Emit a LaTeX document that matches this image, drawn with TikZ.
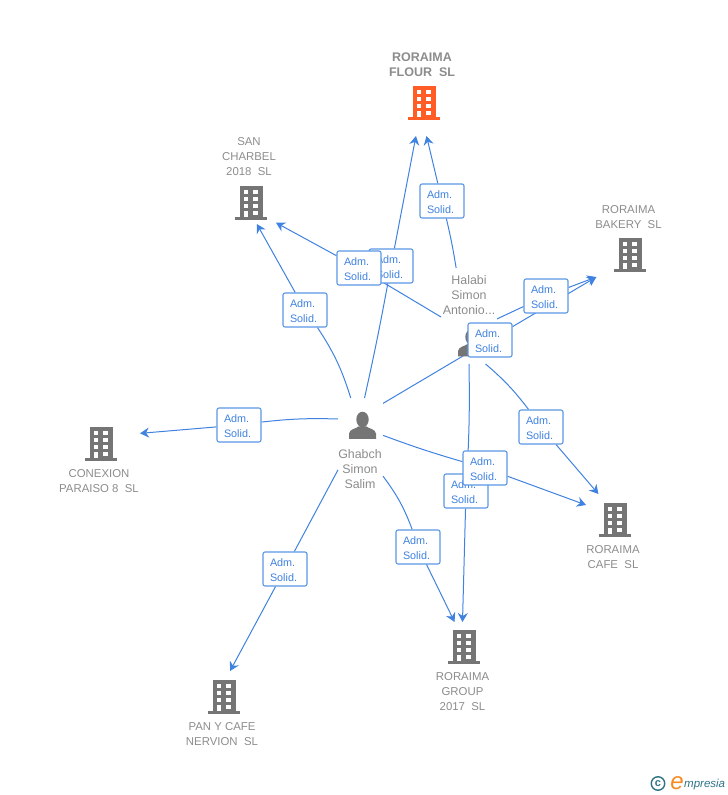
\documentclass[tikz,border=0pt]{standalone}
\usepackage{fontspec}
\setmainfont{Liberation Sans}
\usetikzlibrary{arrows.meta,backgrounds}

\definecolor{linkblue}{HTML}{3F82E0}
\definecolor{boxblue}{HTML}{5B97E6}
\definecolor{labelgrey}{HTML}{8C8C8C}
\definecolor{icongrey}{HTML}{757575}
\definecolor{flourorange}{HTML}{FF5C26}
\definecolor{logoteal}{HTML}{2F7386}
\definecolor{logoorange}{HTML}{F58A1F}

\tikzset{
  slot/.style={rectangle,inner sep=0pt,outer sep=0pt},
  firmname/.style={inner sep=0pt,align=center,text=labelgrey,font=\fontsize{11.4}{15}\selectfont},
  flourname/.style={firmname,font=\fontsize{12.5}{15}\selectfont\bfseries},
  personname/.style={inner sep=0pt,align=center,text=labelgrey,font=\fontsize{12.4}{15}\selectfont},
  admbox/.style={draw=boxblue,fill=white,line width=1.1pt,rounded corners=2pt,
    minimum width=44pt,minimum height=34pt,inner xsep=7pt,inner ysep=0pt,text width=30pt,
    text height=10pt,align=left,text=linkblue,font=\fontsize{10.8}{15}\selectfont},
  link/.style={draw=linkblue,line width=1pt},
  pointer/.style={link,-{Stealth[length=9pt,width=10pt,inset=3pt]}},
  pics/building/.style={code={
    \fill[#1] (-11.5,17) rectangle (11.5,-14);
    \fill[#1] (-16,-14) rectangle (16,-17);
    \foreach \yy in {13.2,6.2,-0.8,-7.8} {
      \fill[white] (-7.5,\yy) rectangle (-2.7,\yy-4.3);
      \fill[white] (1.8,\yy) rectangle (6.6,\yy-4.3);
    }
    \fill[white] (-7.5,-8) rectangle (-2.7,-14);
  }},
  pics/person/.style={code={
    \fill[icongrey] (0,6) ellipse (6.2 and 7.8);
    \fill[icongrey] (-13.5,-13.5) -- (-13.5,-8) .. controls (-13,-3.5) and (-6,-3) .. (-4,-1)
      -- (4,-1) .. controls (6,-3) and (13,-3.5) .. (13.5,-8) -- (13.5,-13.5) -- cycle;
  }}
}

\begin{document}
\begin{tikzpicture}[x=1pt,y=1pt]
  \useasboundingbox (0,0) rectangle (728,795);

  % firms and people
  \begin{scope}[every node/.style={slot}]
    \node[minimum width=68pt,minimum height=86pt] (flour)   at (422,702) {};
    \node[minimum width=54pt,minimum height=89pt] (charbel) at (249,615.5) {};
    \node[minimum width=67pt,minimum height=74pt] (bakery)  at (628.5,555) {};
    \node[minimum width=82pt,minimum height=67pt] (paraiso) at (99,335) {};
    \node[minimum width=74pt,minimum height=76pt] (nervion) at (222,86) {};
    \node[minimum width=55pt,minimum height=90pt] (group)   at (462.5,128) {};
    \node[minimum width=54pt,minimum height=76pt] (cafe)    at (613,263) {};
    \node[minimum width=45pt,minimum height=92pt] (ghabch)  at (360.5,351) {};
    \node[minimum width=56pt,minimum height=96pt] (halabi)  at (469,479) {};
  \end{scope}

  \pic at (424,692)   {building=flourorange};
  \pic at (251,592)   {building=icongrey};
  \pic at (630,540)   {building=icongrey};
  \pic at (101,351)   {building=icongrey};
  \pic at (224,98)    {building=icongrey};
  \pic at (464,148)   {building=icongrey};
  \pic at (615,275)   {building=icongrey};
  \pic at (362.5,369.5) {person};
  \pic at (471.5,452) {person};

  \node[flourname] (flourtext) at (422,730) {RORAIMA\\FLOUR\ \ SL};
  \node[firmname] (charbelname) at (249,638)   {SAN\\CHARBEL\\2018\ \ SL};
  \node[firmname] (bakeryname)  at (628.5,577.5) {RORAIMA\\BAKERY\ \ SL};
  \node[firmname] (paraisoname) at (99,313.5)  {CONEXION\\PARAISO 8\ \ SL};
  \node[firmname] (nervionname) at (222,60.5)  {PAN Y CAFE\\NERVION\ \ SL};
  \node[firmname] (groupname)   at (462.5,103) {RORAIMA\\GROUP\\2017\ \ SL};
  \node[firmname] (cafename)    at (613,237.5) {RORAIMA\\CAFE\ \ SL};
  \node[personname] (ghabchname) at (360,326)  {Ghabch\\Simon\\Salim};
  \node[personname] (halabiname) at (469,500)  {Halabi\\Simon\\Antonio...};

  % labels on the links
  \begin{scope}[every node/.style={admbox}]
    \node (flourg)   at (391,529) {Adm.\\Solid.};
    \node (charbelh) at (359,527) {Adm.\\Solid.};
    \node (flourh)   at (442,594) {Adm.\\Solid.};
    \node (charbelg) at (305,485) {Adm.\\Solid.};
    \node (paraisog) at (239,370) {Adm.\\Solid.};
    \node (nerviong) at (285,226) {Adm.\\Solid.};
    \node (groupg)   at (418,248) {Adm.\\Solid.};
    \node (grouph)   at (466,304) {Adm.\\Solid.};
    \node (cafeg)    at (485,327) {Adm.\\Solid.};
    \node (cafeh)    at (541,368) {Adm.\\Solid.};
    \node (bakeryh)  at (546,499) {Adm.\\Solid.};
    \node (bakeryg)  at (490,455) {Adm.\\Solid.};
  \end{scope}

  \begin{scope}[on background layer]
    \path[link] (ghabch.85.6) to[bend right=1] (flourg);
    \path[pointer] (flourg) to (flour.262);
    \path[link] (halabi.105) to[bend right=2] (flourh);
    \path[pointer] (flourh) to (flour.276.6);

    \path[link] (ghabch.102.9) to[bend right=8] (charbelg);
    \path[pointer] (charbelg) to (charbel.280.2);
    \path[link] (halabi.182) to (charbelh);
    \path[pointer] (charbelh) to (charbel.302.1);

    \path[link] (ghabch.61.7) to (bakeryg);
    \path[pointer] (bakeryg) to (bakery.229.6);
    \path[link] (halabi.-6) to (bakeryh);
    \path[pointer] (bakeryh) to (bakery.229.6);

    \path[link] (ghabch.132) to[bend right=4] (paraisog);
    \path[pointer] (paraisog) to (paraiso.33);

    \path[link] (ghabch.229) to (nerviong);
    \path[pointer] (nerviong) to (nervion.78);

    \path[link] (ghabch.305) to[bend left=8] (groupg);
    \path[pointer] (groupg) to (group.100.7);
    \path[link] (halabi.-90) to[bend left=2] (grouph);
    \path[pointer] (grouph) to (group.90.6);

    \path[link] (ghabch.21.8) to[bend right=2] (cafeg);
    \path[pointer] (cafeg) to (cafe.135);
    \path[link] (halabi.-71) to[bend left=6] (cafeh);
    \path[pointer] (cafeh) to (cafe.111.5);
  \end{scope}

  % logo
  \node[circle,draw=logoteal,line width=1.4pt,minimum size=13.5pt,inner sep=0pt,
    text=logoteal,font=\fontsize{11}{11}\selectfont\bfseries] (copyr) at (658,11.5) {c};
  \node[inner sep=0pt,text=logoorange,font=\fontsize{24}{24}\selectfont\itshape] (logoe) at (677,12) {e};
  \node[inner sep=0pt,anchor=base west,text=logoteal,font=\fontsize{11.5}{12}\selectfont\itshape] (logotext) at (684,7) {mpresia};
\end{tikzpicture}
\end{document}
